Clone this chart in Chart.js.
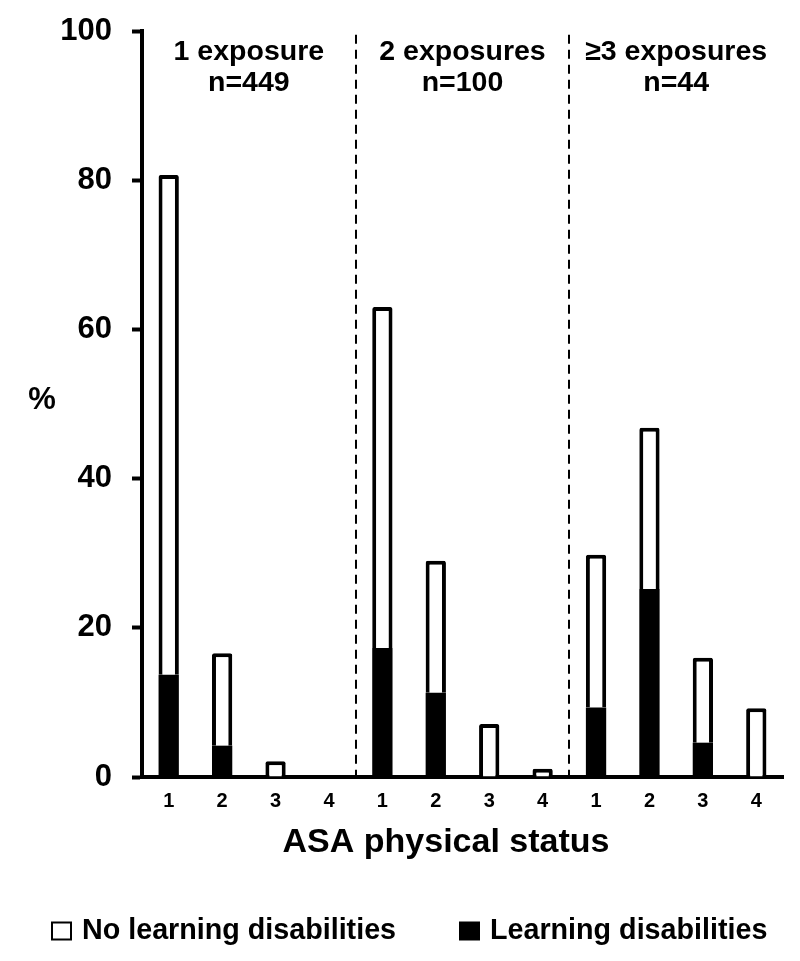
<!DOCTYPE html>
<html>
<head>
<meta charset="utf-8">
<script src="https://cdn.jsdelivr.net/npm/chart.js@4.4.1/dist/chart.umd.min.js"></script>
<style>
html,body{margin:0;padding:0;background:#fff;}
#wrap{width:800px;height:961px;position:relative;}
</style>
</head>
<body>
<div id="wrap"><canvas id="c" width="800" height="961"></canvas></div>
<script>
// ---- data ----
const categories = ['1','2','3','4','1','2','3','4','1','2','3','4'];
const learningDisabilities   = [13.7, 4.2, 0, 0, 17.3, 11.3, 0, 0, 9.3, 25.2, 4.6, 0];
const noLearningDisabilities = [67.0, 12.4, 2.1, 0, 45.7, 17.7, 7.1, 1.1, 20.5, 21.6, 11.4, 9.2];
const yTicks = [0, 20, 40, 60, 80, 100];
const groupTitles = ['1 exposure', '2 exposures', '\u22653 exposures'];
const groupCounts = ['n=449', 'n=100', 'n=44'];
const seriesNames = ['Learning disabilities', 'No learning disabilities'];
const yAxisLabel = '%';
const xAxisLabel = 'ASA physical status';

const FONT = "'Liberation Sans', Arial, Helvetica, sans-serif";
Chart.defaults.font.family = FONT;
Chart.defaults.color = '#000';

const decor = {
  id: 'decor',
  beforeDatasetsDraw(chart) {
    const ctx = chart.ctx, x = chart.scales.x, y = chart.scales.y, ca = chart.chartArea;
    ctx.save();
    ctx.strokeStyle = '#000';
    ctx.lineWidth = 2;
    ctx.setLineDash([9, 6]);
    for (let g = 1; g < 3; g++) {
      const px = Math.round((x.getPixelForValue(g * 4 - 1) + x.getPixelForValue(g * 4)) / 2);
      ctx.beginPath();
      ctx.moveTo(px, y.getPixelForValue(99.5));
      ctx.lineTo(px, ca.bottom);
      ctx.stroke();
    }
    ctx.restore();
  },
  afterDraw(chart) {
    const ctx = chart.ctx, x = chart.scales.x, y = chart.scales.y;
    const top = y.getPixelForValue(100), bottom = y.getPixelForValue(0);
    ctx.save();
    ctx.fillStyle = '#000';
    ctx.textAlign = 'center';
    ctx.textBaseline = 'middle';
    ctx.font = 'bold 28.5px ' + FONT;
    for (let g = 0; g < 3; g++) {
      const cx = (x.getPixelForValue(g * 4) + x.getPixelForValue(g * 4 + 3)) / 2;
      ctx.fillText(groupTitles[g], cx, top + 21);
      ctx.fillText(groupCounts[g], cx, top + 52);
    }
    ctx.font = 'bold 31px ' + FONT;
    ctx.fillText(yAxisLabel, 42, (top + bottom) / 2 - 4);

    // x-axis title
    ctx.font = 'bold 34px ' + FONT;
    ctx.fillText(xAxisLabel, 446, bottom + 66);

    // legend (No learning disabilities first, then Learning disabilities)
    const ds = chart.data.datasets;
    const items = [
      { text: ds[1].label, fill: ds[1].backgroundColor, x: 52 },
      { text: ds[0].label, fill: ds[0].backgroundColor, x: 460 }
    ];
    const ly = 931;
    ctx.textAlign = 'left';
    ctx.font = 'bold 28.7px ' + FONT;
    items.forEach(it => {
      ctx.fillStyle = it.fill;
      ctx.fillRect(it.x, ly - 8.5, 19, 17);
      ctx.strokeStyle = '#000';
      ctx.lineWidth = 2;
      ctx.strokeRect(it.x, ly - 8.5, 19, 17);
      ctx.fillStyle = '#000';
      ctx.fillText(it.text, it.x + 30, ly);
    });
    ctx.restore();
  }
};

new Chart(document.getElementById('c'), {
  type: 'bar',
  data: {
    labels: categories,
    datasets: [
      {
        label: seriesNames[0],
        data: learningDisabilities,
        backgroundColor: '#000',
        borderColor: '#000',
        borderWidth: 0
      },
      {
        label: seriesNames[1],
        data: noLearningDisabilities,
        backgroundColor: '#fff',
        borderColor: '#000',
        borderWidth: 4,
        borderRadius: 2
      }
    ]
  },
  options: {
    responsive: false,
    animation: false,
    devicePixelRatio: 1,
    layout: { padding: { top: 31, left: 45.5, right: 17, bottom: 98 } },
    datasets: { bar: { categoryPercentage: 1.0, barPercentage: 0.38 } },
    scales: {
      x: {
        stacked: true,
        grid: { display: false, drawTicks: false },
        border: { display: true, color: '#000', width: 4 },
        ticks: { font: { size: 20, weight: 'bold' }, color: '#000', padding: 12, maxRotation: 0, autoSkip: false },
        afterFit: s => { s.height = 86; s.paddingLeft = 0; s.paddingRight = 0; }
      },
      y: {
        stacked: true,
        min: 0,
        max: 100,
        afterBuildTicks: s => { s.ticks = yTicks.map(v => ({ value: v })); },
        ticks: { font: { size: 31, weight: 'bold' }, color: '#000', padding: 20 },
        grid: { drawOnChartArea: false, drawTicks: true, tickLength: 10, tickWidth: 4, tickColor: '#000', color: '#000' },
        border: { display: true, color: '#000', width: 4 },
        afterFit: s => { s.width = 96.5; s.paddingTop = 0; s.paddingBottom = 0; }
      }
    },
    plugins: {
      tooltip: { enabled: false },
      legend: { display: false }
    }
  },
  plugins: [decor]
});
</script>
</body>
</html>
